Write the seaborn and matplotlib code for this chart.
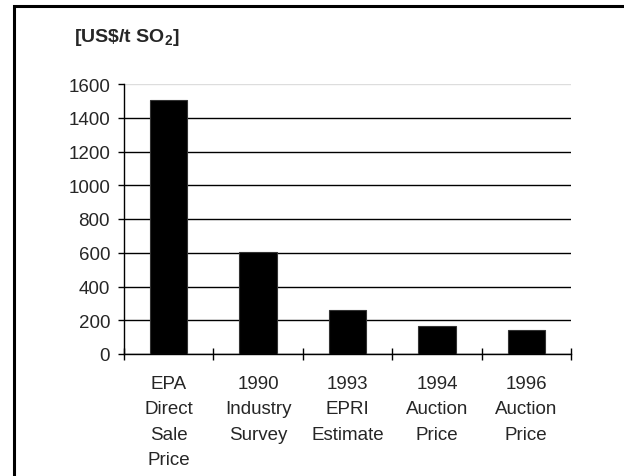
import matplotlib
matplotlib.use('Agg')
import matplotlib.pyplot as plt
import seaborn as sns
import pandas as pd
from matplotlib.patches import Rectangle

# Data
categories = ['EPA\nDirect\nSale\nPrice', '1990\nIndustry\nSurvey', '1993\nEPRI\nEstimate',
              '1994\nAuction\nPrice', '1996\nAuction\nPrice']
costs = [1505, 605, 262, 165, 145]
y_ticks = [0, 200, 400, 600, 800, 1000, 1200, 1400, 1600]

sns.set_theme(style='white')
plt.rcParams['font.family'] = ['Liberation Sans', 'DejaVu Sans']
plt.rcParams['mathtext.fontset'] = 'custom'
plt.rcParams['mathtext.rm'] = 'Liberation Sans'
plt.rcParams['mathtext.bf'] = 'Liberation Sans:bold'

df = pd.DataFrame({'category': categories, 'cost': costs})

fig = plt.figure(figsize=(6.24, 4.77), dpi=100)
ax = fig.add_axes([124 / 624, 1 - 355 / 477, (571 - 124) / 624, (355 - 85) / 477])

sns.barplot(data=df, x='category', y='cost', color='black', width=0.42,
            edgecolor='#333333', linewidth=0.8, saturation=1, ax=ax, zorder=3)

ax.set_ylim(0, 1600)
ax.set_xlim(-0.5, len(categories) - 0.5)
ax.set_yticks(y_ticks)
ax.set_xlabel('')
ax.set_ylabel('')

# Gridlines behind the bars; top one is lighter
ax.yaxis.grid(True, color='black', linewidth=1)
ax.set_axisbelow(True)
ax.get_ygridlines()[-1].set_color('#dddddd')

for side in ['top', 'right']:
    ax.spines[side].set_visible(False)
for side in ['left', 'bottom']:
    ax.spines[side].set_color('black')
    ax.spines[side].set_linewidth(1)

ax.tick_params(axis='y', direction='out', length=4, width=1, color='black',
               pad=6, labelsize=13.5, left=True)
ax.tick_params(axis='x', which='major', length=0, pad=15, labelsize=13.5)
ax.set_xticks([i - 0.5 for i in range(len(categories) + 1)], minor=True)
ax.tick_params(axis='x', which='minor', direction='inout', length=9, width=1,
               color='black', bottom=True)
for lbl in ax.get_xticklabels():
    lbl.set_linespacing(1.65)

fig.text(74 / 624, 1 - 27 / 477, r'[US\$/t SO$_\mathbf{2}$]', fontsize=14,
         fontweight='bold', ha='left', va='top')

# Outer frame (right and bottom fall outside the image)
fig.patches.append(Rectangle((14 / 624, -0.1), 1.2, 1.1 - 6.5 / 477,
                             transform=fig.transFigure, fill=False,
                             edgecolor='black', linewidth=2.2))

fig.savefig('out.png', dpi=100)
